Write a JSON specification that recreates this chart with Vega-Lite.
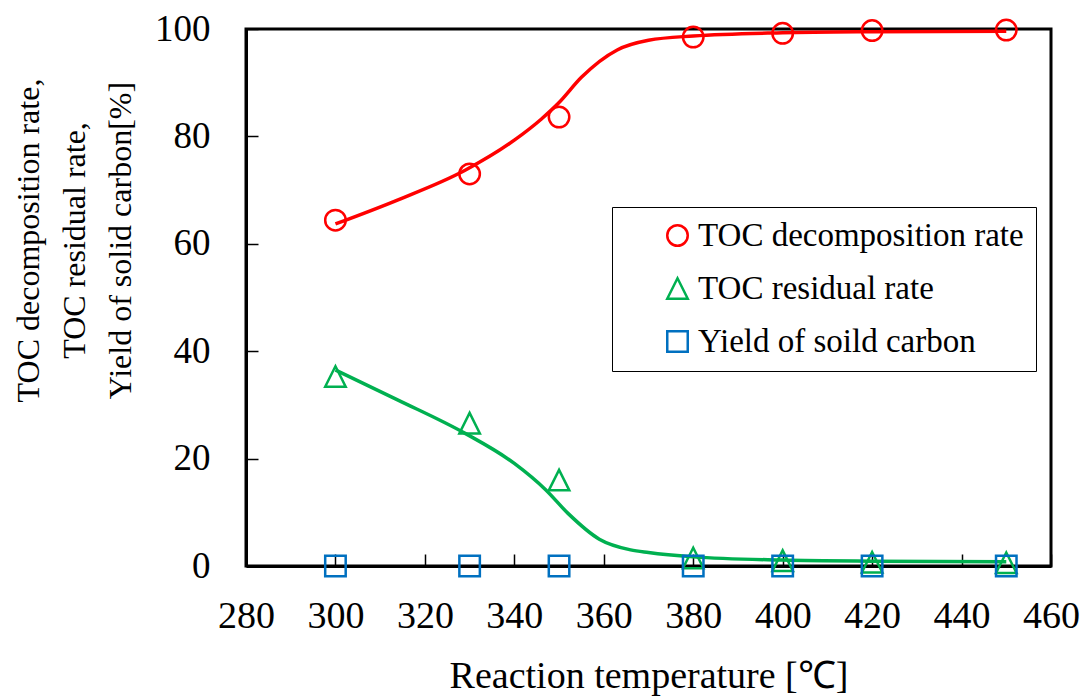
{
  "$schema": "https://vega.github.io/schema/vega-lite/v6.json",
  "width": 805,
  "height": 537,
  "autosize": {"type": "none"},
  "padding": {"left": 246, "top": 29, "right": 31, "bottom": 131},
  "background": "white",
  "config": {
    "view": {"stroke": "black", "strokeWidth": 3},
    "font": "'Liberation Serif', 'Times New Roman', serif",
    "axis": {
      "labelFont": "'Liberation Serif', 'Times New Roman', serif",
      "titleFont": "'Liberation Serif', 'Times New Roman', serif",
      "labelColor": "black",
      "titleColor": "black",
      "titleFontWeight": "normal",
      "domainColor": "black",
      "domainWidth": 3,
      "tickColor": "black",
      "tickWidth": 1.5,
      "grid": false,
      "labelOverlap": false,
      "labelFlush": false
    }
  },
  "datasets": {
    "points": [
      {"T": 300, "value": 64.4, "series": "TOC decomposition rate"},
      {"T": 330, "value": 73.0, "series": "TOC decomposition rate"},
      {"T": 350, "value": 83.6, "series": "TOC decomposition rate"},
      {"T": 380, "value": 98.5, "series": "TOC decomposition rate"},
      {"T": 400, "value": 99.2, "series": "TOC decomposition rate"},
      {"T": 420, "value": 99.7, "series": "TOC decomposition rate"},
      {"T": 450, "value": 99.8, "series": "TOC decomposition rate"},
      {"T": 300, "value": 35.3, "series": "TOC residual rate"},
      {"T": 330, "value": 26.6, "series": "TOC residual rate"},
      {"T": 350, "value": 16.0, "series": "TOC residual rate"},
      {"T": 380, "value": 1.5, "series": "TOC residual rate"},
      {"T": 400, "value": 1.0, "series": "TOC residual rate"},
      {"T": 420, "value": 0.7, "series": "TOC residual rate"},
      {"T": 450, "value": 0.6, "series": "TOC residual rate"},
      {"T": 300, "value": 0, "series": "Yield of soild carbon"},
      {"T": 330, "value": 0, "series": "Yield of soild carbon"},
      {"T": 350, "value": 0, "series": "Yield of soild carbon"},
      {"T": 380, "value": 0, "series": "Yield of soild carbon"},
      {"T": 400, "value": 0, "series": "Yield of soild carbon"},
      {"T": 420, "value": 0, "series": "Yield of soild carbon"},
      {"T": 450, "value": 0, "series": "Yield of soild carbon"}
    ],
    "curve": [
      {"T": 300, "value": 63.7, "series": "TOC decomposition rate"},
      {"T": 314, "value": 68.2, "series": "TOC decomposition rate"},
      {"T": 329, "value": 73.7, "series": "TOC decomposition rate"},
      {"T": 340, "value": 79.3, "series": "TOC decomposition rate"},
      {"T": 346, "value": 83.2, "series": "TOC decomposition rate"},
      {"T": 350, "value": 86.3, "series": "TOC decomposition rate"},
      {"T": 355, "value": 91.0, "series": "TOC decomposition rate"},
      {"T": 363, "value": 96.1, "series": "TOC decomposition rate"},
      {"T": 370, "value": 97.9, "series": "TOC decomposition rate"},
      {"T": 380, "value": 98.7, "series": "TOC decomposition rate"},
      {"T": 400, "value": 99.3, "series": "TOC decomposition rate"},
      {"T": 420, "value": 99.5, "series": "TOC decomposition rate"},
      {"T": 450, "value": 99.6, "series": "TOC decomposition rate"},
      {"T": 300, "value": 36.5, "series": "TOC residual rate"},
      {"T": 314, "value": 30.9, "series": "TOC residual rate"},
      {"T": 329, "value": 24.7, "series": "TOC residual rate"},
      {"T": 340, "value": 19.1, "series": "TOC residual rate"},
      {"T": 347, "value": 14.2, "series": "TOC residual rate"},
      {"T": 352, "value": 9.8, "series": "TOC residual rate"},
      {"T": 359, "value": 5.0, "series": "TOC residual rate"},
      {"T": 366, "value": 3.0, "series": "TOC residual rate"},
      {"T": 370, "value": 2.5, "series": "TOC residual rate"},
      {"T": 380, "value": 1.7, "series": "TOC residual rate"},
      {"T": 400, "value": 1.1, "series": "TOC residual rate"},
      {"T": 420, "value": 0.9, "series": "TOC residual rate"},
      {"T": 450, "value": 0.8, "series": "TOC residual rate"}
    ]
  },
  "layer": [
    {
      "data": {"name": "curve"},
      "mark": {"type": "line", "interpolate": "monotone", "strokeWidth": 3.5},
      "encoding": {
        "x": {
          "field": "T", "type": "quantitative",
          "scale": {"domain": [280, 460], "nice": false, "zero": false},
          "axis": {
            "values": [280, 300, 320, 340, 360, 380, 400, 420, 440, 460],
            "tickSize": -12,
            "labelPadding": 43,
            "labelFontSize": 38,
            "title": "Reaction temperature [℃]",
            "titleFontSize": 38,
            "titleY": 110,
            "titleBaseline": "middle"
          }
        },
        "y": {
          "field": "value", "type": "quantitative",
          "scale": {"domain": [0, 100], "nice": false},
          "axis": {
            "values": [0, 20, 40, 60, 80, 100],
            "tickSize": -12,
            "labelPadding": 48,
            "labelFontSize": 37,
            "title": ["TOC decomposition rate,", "TOC residual rate,", "Yield of solid carbon[%]"],
            "titleFontSize": 32,
            "titleLineHeight": 46,
            "titleAngle": 270,
            "titleAlign": "center",
            "titleBaseline": "top",
            "titleX": -233,
            "titleY": 211
          }
        },
        "color": {
          "field": "series", "type": "nominal",
          "scale": {
            "domain": ["TOC decomposition rate", "TOC residual rate", "Yield of soild carbon"],
            "range": ["#ff0000", "#00b050", "#0070c0"]
          }
        }
      }
    },
    {
      "data": {"name": "points"},
      "mark": {"type": "point", "filled": false, "strokeWidth": 2.5, "size": 420, "opacity": 1, "clip": false},
      "encoding": {
        "x": {"field": "T", "type": "quantitative"},
        "y": {"field": "value", "type": "quantitative"},
        "color": {
          "field": "series", "type": "nominal",
          "scale": {
            "domain": ["TOC decomposition rate", "TOC residual rate", "Yield of soild carbon"],
            "range": ["#ff0000", "#00b050", "#0070c0"]
          }
        },
        "shape": {
          "field": "series", "type": "nominal",
          "scale": {
            "domain": ["TOC decomposition rate", "TOC residual rate", "Yield of soild carbon"],
            "range": ["circle", "M0,-1L-1,1L1,1Z", "square"]
          },
          "legend": {
            "title": null,
            "orient": "none",
            "legendX": 366,
            "legendY": 178,
            "padding": 12,
            "strokeColor": "black",
            "fillColor": "white",
            "labelFont": "'Liberation Serif', 'Times New Roman', serif",
            "labelFontSize": 33,
            "labelColor": "black",
            "labelLimit": 700,
            "rowPadding": 19,
            "symbolOffset": 37,
            "labelOffset": 4,
            "symbolSize": 420,
            "symbolStrokeWidth": 2.5,
            "symbolFillColor": "transparent",
            "symbolOpacity": 1,
            "encode": {"legend": {"update": {"strokeWidth": {"value": 2}}}}
          }
        }
      }
    }
  ]
}
